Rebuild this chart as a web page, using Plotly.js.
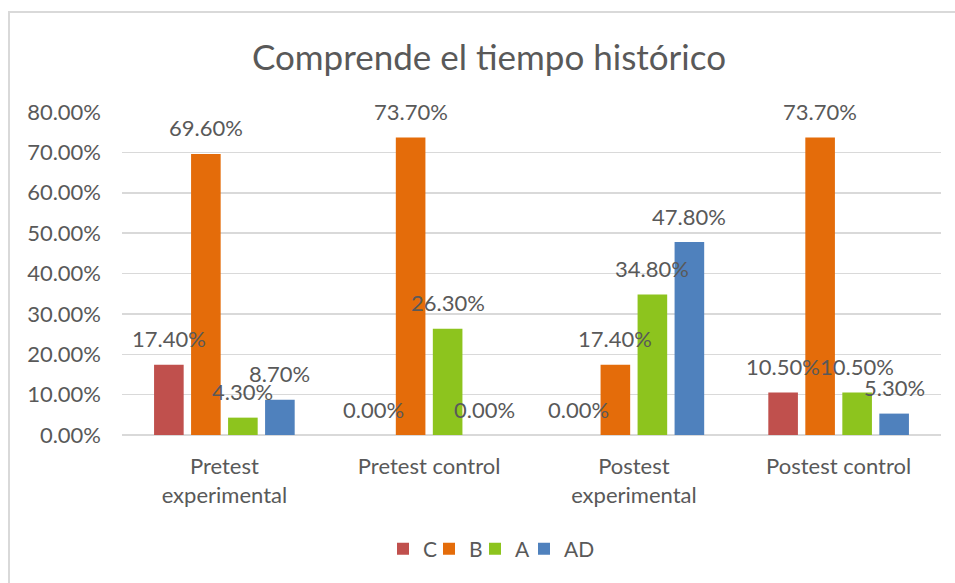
<!DOCTYPE html>
<html>
<head>
<meta charset="utf-8">
<script src="https://cdn.plot.ly/plotly-3.0.1.min.js"></script>
<style>
  html, body { margin: 0; padding: 0; background: #ffffff; }
  #frame { position: absolute; left: 8px; top: 11px; width: 960px; height: 600px;
           border-left: 2px solid #d9d9d9; border-top: 2px solid #d9d9d9; }
  #chart { position: absolute; left: 0; top: 0; width: 955px; height: 583px; }
</style>
</head>
<body>
<div id="frame"></div>
<div id="chart"></div>
<script>
const categories = ["Pretest<br>experimental", "Pretest control", "Postest<br>experimental", "Postest control"];
const seriesNames = ["C", "B", "A", "AD"];
const valuesC  = [17.4, 0.0, 0.0, 10.5];
const valuesB  = [69.6, 73.7, 17.4, 73.7];
const valuesA  = [4.3, 26.3, 34.8, 10.5];
const valuesAD = [8.7, 0.0, 47.8, 5.3];
const yTickVals = [0, 10, 20, 30, 40, 50, 60, 70, 80];
const yTickText = ["0.00%", "10.00%", "20.00%", "30.00%", "40.00%", "50.00%", "60.00%", "70.00%", "80.00%"];
const colors = ["#C0504D", "#E46C0A", "#8DC41E", "#4F81BD"];

const allValues = [valuesC, valuesB, valuesA, valuesAD];
const W = 955, H = 583;
const margin = {l: 122, r: 14, t: 112, b: 148};
const plotW = W - margin.l - margin.r;
const catW = plotW / categories.length;
const bargap = 0.277;
const slot = catW * (1 - bargap) / seriesNames.length;

const font = "Lato, 'Open Sans', sans-serif";
const textColor = "#595959";

// one legend per series so the compact Excel-style spacing can be reproduced
const legendIds = ["legend", "legend2", "legend3", "legend4"];
const legendLeft = [383, 429, 475, 524];

const traces = seriesNames.map((name, i) => ({
  type: "bar",
  name: name,
  x: categories,
  y: allValues[i],
  legend: legendIds[i],
  marker: {color: colors[i], line: {width: 0}},
  hoverinfo: "none"
}));

const annotations = [];
allValues.forEach((vals, i) => {
  vals.forEach((v, j) => {
    annotations.push({
      x: categories[j], y: v, xref: "x", yref: "y",
      text: v.toFixed(2) + "%",
      showarrow: false,
      xshift: (i - (seriesNames.length - 1) / 2) * slot,
      yshift: 26,
      yanchor: "middle", xanchor: "center",
      font: {family: font, size: 22, color: textColor}
    });
  });
});

const layout = {
  width: W, height: H,
  margin: margin,
  paper_bgcolor: "rgba(0,0,0,0)",
  plot_bgcolor: "rgba(0,0,0,0)",
  barmode: "group",
  bargap: bargap,
  bargroupgap: 0.2,
  title: {
    text: "Comprende el tiempo histórico",
    font: {family: font, size: 35, color: textColor},
    xref: "container", yref: "container",
    x: 0.512, y: 1 - 58 / H, xanchor: "center", yanchor: "middle"
  },
  xaxis: {
    type: "category",
    tickfont: {family: font, size: 22, color: textColor},
    showgrid: false, showline: false, zeroline: false,
    ticks: "", ticklabelstandoff: 16
  },
  yaxis: {
    range: [0, 80],
    tickvals: yTickVals, ticktext: yTickText,
    tickfont: {family: font, size: 22, color: textColor},
    showgrid: true, gridcolor: "#D9D9D9", gridwidth: 1.5,
    zeroline: true, zerolinecolor: "#D9D9D9", zerolinewidth: 1.5,
    showline: false, ticks: "", ticklabelstandoff: 20
  },
  showlegend: true,
  annotations: annotations
};

legendIds.forEach((id, i) => {
  layout[id] = {
    orientation: "h",
    xref: "container", yref: "container",
    x: legendLeft[i] / W, y: 1 - 549 / H, xanchor: "left", yanchor: "middle",
    font: {family: font, size: 21, color: textColor},
    itemwidth: 30,
    bgcolor: "rgba(0,0,0,0)"
  };
});

Plotly.newPlot("chart", traces, layout, {displayModeBar: false, staticPlot: true});
</script>
</body>
</html>
